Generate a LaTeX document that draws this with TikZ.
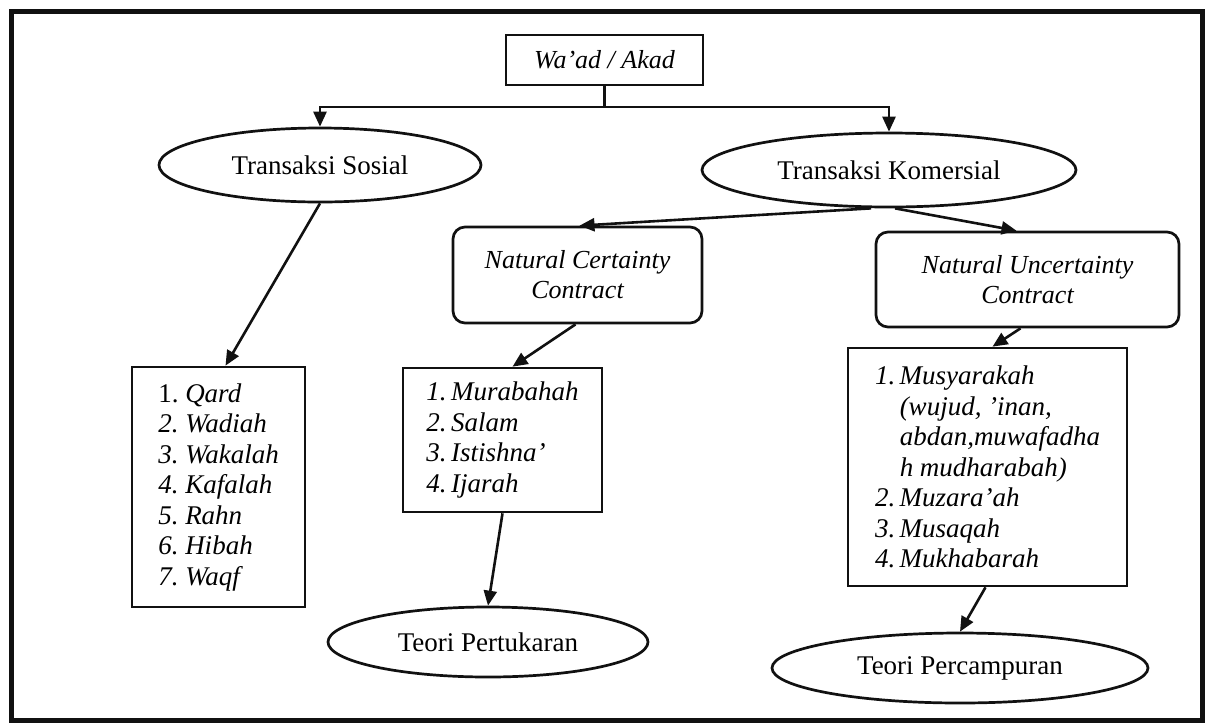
\documentclass[tikz,border=0pt]{standalone}
\usepackage{fontspec}
\setmainfont{Liberation Serif}
\usetikzlibrary{shapes.geometric,arrows.meta}
\definecolor{AKInk}{HTML}{111111}
\definecolor{AKPaper}{HTML}{FFFFFF}

\begin{document}
\begin{tikzpicture}[x=1pt,y=-1pt,
  akbox/.style={draw=AKInk,line width=2.7pt,inner sep=0pt,align=center,
    font=\fontsize{26}{30}\selectfont\itshape},
  akround/.style={akbox,rounded corners=12pt},
  akoval/.style={akbox,ellipse,font=\fontsize{27}{30}\selectfont},
  aklist/.style={akbox,align=left,font=\fontsize{27}{30.5}\selectfont\itshape},
  akline/.style={draw=AKInk,line width=2.6pt},
  akflow/.style={akline,-{Triangle[length=15pt,width=13pt]}}]
\path[use as bounding box] (0,0) rectangle (1208,724);
\fill[AKPaper] (0,0) rectangle (1208,724);
\draw[AKInk,line width=5pt] (11,11) rectangle (1202,720);
% top of the tree
\node[akbox,minimum width=197pt,minimum height=50pt] (waad) at (604.5,60) {Wa'ad / Akad};
\node[akoval,minimum width=322pt,minimum height=74pt] (sosial) at (320,165) {Transaksi Sosial};
\node[akoval,minimum width=374pt,minimum height=74pt] (komersial) at (889,170) {Transaksi Komersial};
\coordinate (split) at (604.5,107);
% contracts
\node[akround,minimum width=249pt,minimum height=96pt] (certain) at (577.5,275) {Natural Certainty\\Contract};
\node[akround,minimum width=303pt,minimum height=95pt] (uncertain) at (1027.5,279.5) {Natural Uncertainty\\Contract};
% lists
\node[aklist,minimum width=173pt,minimum height=240pt] (sosiallist) at (218.5,487)
  {{\upshape 1.}\ Qard\\2.\ Wadiah\\3.\ Wakalah\\4.\ Kafalah\\5.\ Rahn\\6.\ Hibah\\7.\ Waqf};
\node[aklist,minimum width=199pt,minimum height=144pt] (certainlist) at (502.5,440)
  {1.\,Murabahah\\2.\,Salam\\3.\,Istishna'\\4.\,Ijarah};
\node[aklist,minimum width=279pt,minimum height=238pt] (uncertainlist) at (987.5,467)
  {1.\,Musyarakah\\\phantom{1.\,}(wujud, 'inan,\\\phantom{1.\,}abdan,muwafadha\\\phantom{1.\,}h mudharabah)\\2.\,Muzara'ah\\3.\,Musaqah\\4.\,Mukhabarah};
% theories
\node[akoval,minimum width=320pt,minimum height=70pt] (pertukaran) at (488,642) {Teori Pertukaran};
\node[akoval,minimum width=376pt,minimum height=70pt] (percampuran) at (960,668) {Teori Percampuran};
% connectors
\draw[akline] (waad.south) -- (split);
\draw[akflow] (split) -| (sosial.north);
\draw[akflow] (split) -| (komersial.north);
\draw[akflow] (sosial.south) -- ([xshift=7pt]sosiallist.north);
\draw[akflow] ([xshift=-18pt]komersial.south) -- ([xshift=2pt]certain.north);
\draw[akflow] ([xshift=6pt]komersial.south) -- ([xshift=-11pt]uncertain.north);
\draw[akflow] ([xshift=-2pt]certain.south) -- ([xshift=10pt]certainlist.north);
\draw[akflow] ([xshift=-7pt]uncertain.south) -- ([xshift=5pt]uncertainlist.north);
\draw[akflow] (certainlist.south) -- (pertukaran.north);
\draw[akflow] ([xshift=-2pt]uncertainlist.south) -- (percampuran.north);
\end{tikzpicture}
\end{document}
